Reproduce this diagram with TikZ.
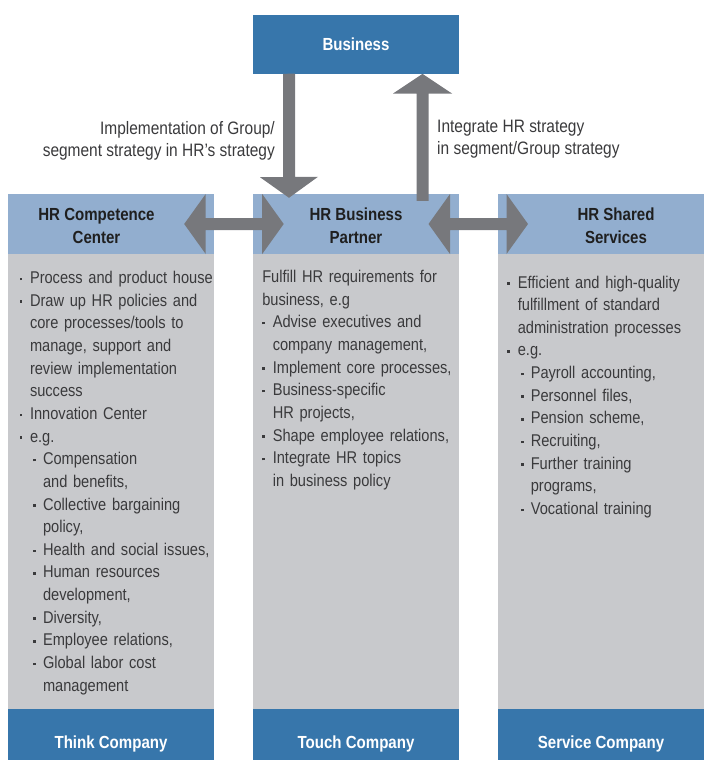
\documentclass[tikz,border=0pt]{standalone}
\usepackage{fontspec}
\setmainfont[FakeStretch=0.86]{Liberation Sans}
\usepackage{tikz}
\usetikzlibrary{calc}
\definecolor{darkblue}{RGB}{55,118,171}
\definecolor{headblue}{RGB}{146,174,207}
\definecolor{bodygray}{RGB}{200,201,204}
\definecolor{arrowgray}{RGB}{119,120,124}
\definecolor{textgray}{RGB}{58,58,60}
\tikzstyle{topbox}=[rectangle,fill=darkblue,text=white,font=\bfseries\fontsize{17.5}{23}\selectfont,minimum width=206pt,minimum height=58.7pt,inner sep=0pt]
\tikzstyle{head}=[rectangle,fill=headblue,minimum width=206pt,minimum height=60pt,inner sep=0pt]
\tikzstyle{headtext}=[align=center,text=black!88,font=\bfseries\fontsize{17.5}{23}\selectfont,inner sep=0pt]
\tikzstyle{body}=[rectangle,fill=bodygray,minimum width=206pt,minimum height=455pt,inner sep=0pt]
\tikzstyle{foot}=[rectangle,fill=darkblue,text=white,font=\bfseries\fontsize{17.5}{23}\selectfont,minimum width=206pt,minimum height=51pt,inner sep=0pt,text height=27pt,text depth=0pt]
\tikzstyle{bullets}=[anchor=base west,align=left,text width=198pt,inner sep=0pt,text=textgray,font=\fontsize{17}{22.65}\selectfont]
\tikzstyle{note}=[inner sep=0pt,text=textgray,font=\fontsize{18}{22}\selectfont]
\tikzstyle{block arrow}=[fill=arrowgray]
\newcommand{\sqbullet}{\rule[3.4pt]{2.4pt}{2.4pt}}
\newcommand{\itmA}[1]{\noindent\hangindent=10.5pt\hangafter=1\makebox[10.5pt][l]{\sqbullet}#1\par}
\newcommand{\itmB}[1]{\noindent\hangindent=23.5pt\hangafter=1\hspace*{13.8pt}\makebox[9.7pt][l]{\sqbullet}#1\par}
\newcommand{\dblarrow}[1]{\fill[block arrow] (#1) -- ++(21.5,-30) -- ++(0,24) -- ++(56.5,0) -- ++(0,-24) -- ++(21.5,30) -- ++(-21.5,30) -- ++(0,-24) -- ++(-56.5,0) -- ++(0,24) -- cycle;}

\begin{document}
\begin{tikzpicture}[x=1pt,y=-1pt]
    \useasboundingbox (0,0) rectangle (709,760);
    \node[topbox] (biz) at (356,44.35) {Business};
    \foreach \x/\n/\f in {111/cc/Think Company, 356/bp/Touch Company, 601/ss/Service Company} {
        \node[head] (\n-head) at (\x,224) {};
        \node[body] (\n-body) at (\x,481.5) {};
        \node[foot] (\n-foot) at (\x,734.5) {\f};
    }
    % arrows between business and partner
    \fill[block arrow] ($(biz.south)+(-73,0)$) -- ++(0,103.3) -- ++(-23,0) -- ($(bp-head.north)+(-67,4)$) -- ++(29,-21) -- ++(-23,0) -- ++(0,-103.3) -- cycle;
    \fill[block arrow] ($(biz.south)+(66.5,0)$) -- ++(-29.5,19.6) -- ++(23.5,0) -- ++(0,107.4) -- ++(12,0) -- ++(0,-107.4) -- ++(23.5,0) -- cycle;
    \dblarrow{$(cc-head.east)+(-30,0)$}
    \dblarrow{$(bp-head.east)+(-30.7,0)$}
    \node[note,anchor=base east,align=right] (implement) at (275,156.5) {Implementation of Group/\\segment strategy in HR's strategy};
    \node[note,anchor=base west,align=left] (integrate) at (437,154.5) {Integrate HR strategy\\in segment/Group strategy};
    \node[headtext] (cc-title) at (96.5,226) {HR Competence\\Center};
    \node[headtext] (bp-title) at (356,226) {HR Business\\Partner};
    \node[headtext] (ss-title) at (616,226) {HR Shared\\Services};
    % lists
    \node[bullets] (cc-list) at (19.3,283.5) {%
        \itmA{Process and product house}
        \itmA{Draw up HR policies and\newline core processes/tools to\newline manage, support and\newline review implementation\newline success}
        \itmA{Innovation Center}
        \itmA{e.g.}
        \itmB{Compensation\newline and benefits,}
        \itmB{Collective bargaining\newline policy,}
        \itmB{Health and social issues,}
        \itmB{Human resources\newline development,}
        \itmB{Diversity,}
        \itmB{Employee relations,}
        \itmB{Global labor cost\newline management}};
    \node[bullets] (bp-list) at (262.1,282.5) {%
        \noindent Fulfill HR requirements for\newline business, e.g\par
        \itmA{Advise executives and\newline company management,}
        \itmA{Implement core processes,}
        \itmA{Business-specific\newline HR projects,}
        \itmA{Shape employee relations,}
        \itmA{Integrate HR topics\newline in business policy}};
    \node[bullets] (ss-list) at (507.1,288) {%
        \itmA{Efficient and high-quality\newline fulfillment of standard\newline administration processes}
        \itmA{e.g.}
        \itmB{Payroll accounting,}
        \itmB{Personnel files,}
        \itmB{Pension scheme,}
        \itmB{Recruiting,}
        \itmB{Further training\newline programs,}
        \itmB{Vocational training}};
\end{tikzpicture}
\end{document}
